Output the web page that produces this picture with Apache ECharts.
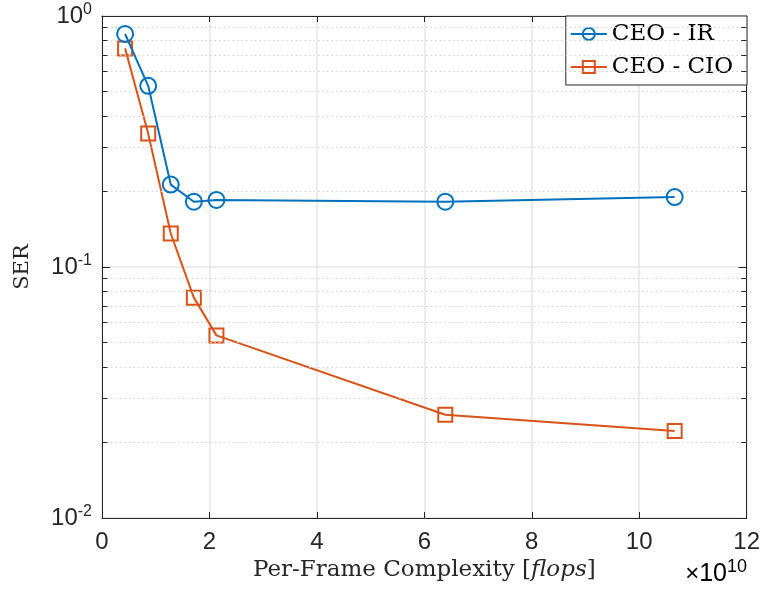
<!DOCTYPE html>
<html>
<head>
<meta charset="utf-8">
<script src="https://cdn.jsdelivr.net/npm/echarts@6/dist/echarts.min.js"></script>
<style>
  html, body { margin: 0; padding: 0; background: #fff; }
  #chart { width: 763px; height: 594px; }
</style>
</head>
<body>
<div id="chart"></div>
<script>
// Per-frame complexity in units of 1e10 flops
const complexity = [0.43, 0.86, 1.28, 1.71, 2.13, 6.39, 10.66];
// Symbol error rates
const serIR = [0.848, 0.527, 0.213, 0.182, 0.185, 0.182, 0.190];
const serCIO = [0.743, 0.340, 0.136, 0.0755, 0.0534, 0.0258, 0.0222];
const seriesNames = ['CEO - IR', 'CEO - CIO'];
const xTicks = [0, 2, 4, 6, 8, 10, 12];
const yDecades = [0.01, 0.1, 1];
const yMinor = [0.02, 0.03, 0.04, 0.05, 0.06, 0.07, 0.08, 0.09,
                0.2, 0.3, 0.4, 0.5, 0.6, 0.7, 0.8, 0.9];

const AX = '#262626';
const BLUE = '#0072BD';
const RED = '#D95319';
const SERIF = '"DejaVu Serif", serif';
const SANS = '"Liberation Sans", Arial, sans-serif';

const pairs = (xs, ys) => xs.map((x, i) => [x, ys[i]]);
const xMin = xTicks[0], xMax = xTicks[xTicks.length - 1];
const tickLen = 0.1;

// minor log grid lines and the short inward minor ticks on both y sides
const minorGrid = yMinor.map(v => [{ coord: [xMin, v] }, { coord: [xMax, v] }]);
const minorTicks = [];
yMinor.forEach(v => {
  minorTicks.push([{ coord: [xMin, v] }, { coord: [xMin + tickLen, v] }]);
  minorTicks.push([{ coord: [xMax - tickLen, v] }, { coord: [xMax, v] }]);
});

function decadeLabel(v) {
  const e = Math.round(Math.log10(v));
  return '{b|10}{s|' + e + '}';
}
const decadeRich = {
  b: { fontSize: 24, fontFamily: SANS, color: AX, lineHeight: 28 },
  s: { fontSize: 16, fontFamily: SANS, color: AX, lineHeight: 15, verticalAlign: 'top' }
};

const chart = echarts.init(document.getElementById('chart'));
chart.setOption({
  animation: false,
  backgroundColor: '#fff',
  grid: { left: 102, right: 16, top: 16, bottom: 76 },
  legend: {
    data: seriesNames,
    orient: 'vertical',
    right: 16, top: 16,
    backgroundColor: '#fff',
    borderColor: AX, borderWidth: 1, borderRadius: 0,
    padding: [4, 14, 4, 4],
    itemGap: 5,
    itemWidth: 36, itemHeight: 15,
    textStyle: { fontFamily: SERIF, fontSize: 23, color: '#000', lineHeight: 28 }
  },
  xAxis: [{
    type: 'value', min: xMin, max: xMax, interval: 2,
    axisLine: { show: true, onZero: false, lineStyle: { color: AX, width: 1 } },
    axisTick: { show: true, inside: true, length: 6, lineStyle: { color: AX } },
    axisLabel: { fontSize: 24, fontFamily: SANS, color: AX, margin: 12 },
    splitLine: { show: true, lineStyle: { color: '#e6e6e6', width: 1.5 } },
    name: '{n|Per-Frame Complexity [}{i|flops}{n|]}',
    nameLocation: 'middle', nameGap: 41,
    nameTextStyle: {
      rich: {
        n: { fontFamily: SERIF, fontSize: 23, color: AX },
        i: { fontFamily: SERIF, fontSize: 23, fontStyle: 'italic', color: AX }
      }
    }
  }, {
    type: 'value', min: xMin, max: xMax, interval: 2, position: 'top',
    axisLine: { show: true, onZero: false, lineStyle: { color: AX, width: 1 } },
    axisTick: { show: true, inside: true, length: 6, lineStyle: { color: AX } },
    axisLabel: { show: false }, splitLine: { show: false }
  }],
  yAxis: [{
    type: 'log', logBase: 10, min: yDecades[0], max: yDecades[yDecades.length - 1],
    axisLine: { show: true, onZero: false, lineStyle: { color: AX, width: 1 } },
    axisTick: { show: true, inside: true, length: 8, lineStyle: { color: AX } },
    axisLabel: { formatter: decadeLabel, rich: decadeRich, fontSize: 24, fontFamily: SANS, color: AX, margin: 10 },
    splitLine: { show: true, lineStyle: { color: '#e6e6e6', width: 1.5 } },
    name: 'SER', nameLocation: 'middle', nameGap: 69, nameRotate: 90,
    nameTextStyle: { fontFamily: SERIF, fontSize: 21, color: AX }
  }, {
    type: 'log', logBase: 10, min: yDecades[0], max: yDecades[yDecades.length - 1],
    position: 'right',
    axisLine: { show: true, onZero: false, lineStyle: { color: AX, width: 1 } },
    axisTick: { show: true, inside: true, length: 8, lineStyle: { color: AX } },
    axisLabel: { show: false }, splitLine: { show: false }
  }],
  series: [{
    name: 'grid-minor', type: 'line', data: [], silent: true,
    markLine: {
      silent: true, symbol: 'none', label: { show: false },
      lineStyle: { color: '#cfcfcf', type: [1.5, 3], width: 1 },
      data: minorGrid
    }
  }, {
    name: 'tick-minor', type: 'line', data: [], silent: true,
    markLine: {
      silent: true, symbol: 'none', label: { show: false },
      lineStyle: { color: AX, type: 'solid', width: 1 },
      data: minorTicks
    }
  }, {
    name: seriesNames[0], type: 'line', data: pairs(complexity, serIR),
    symbol: 'circle', symbolSize: 16, showSymbol: true,
    color: BLUE,
    lineStyle: { color: BLUE, width: 2 },
    itemStyle: { color: 'rgba(255,255,255,0)', borderColor: BLUE, borderWidth: 2 },
    z: 5
  }, {
    name: seriesNames[1], type: 'line', data: pairs(complexity, serCIO),
    symbol: 'rect', symbolSize: 14, showSymbol: true,
    color: RED,
    lineStyle: { color: RED, width: 2 },
    itemStyle: { color: 'rgba(255,255,255,0)', borderColor: RED, borderWidth: 2 },
    z: 4
  }],
  graphic: [{
    type: 'text', right: 16, top: 558,
    style: {
      text: '{m|×}{b|10}{s|10}',
      rich: {
        m: { fontFamily: SANS, fontSize: 24, color: AX, lineHeight: 32 },
        b: { fontFamily: SANS, fontSize: 25, color: AX, lineHeight: 32 },
        s: { fontFamily: SANS, fontSize: 18, color: AX, lineHeight: 16, verticalAlign: 'top' }
      }
    }
  }]
});
</script>
</body>
</html>
